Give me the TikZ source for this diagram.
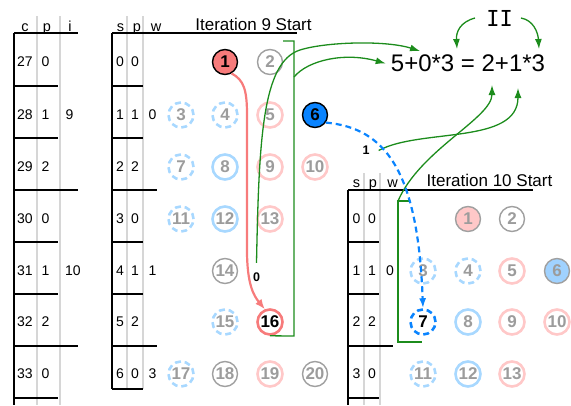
\documentclass[tikz,border=0pt]{standalone}
\usepackage{fontspec}
\setmainfont{Liberation Sans}
\newfontfamily\romanfont{DejaVu Sans Mono}
\usepackage{tikz}
\usetikzlibrary{arrows.meta, positioning}

\definecolor{nodered}{HTML}{F77B7B}
\definecolor{nodeblue}{HTML}{0A84FF}
\definecolor{lightblue}{HTML}{A8D8FF}
\definecolor{softblue}{HTML}{A0D2FF}
\definecolor{lightpink}{HTML}{FFC8C8}
\definecolor{ringgray}{HTML}{A0A0A0}
\definecolor{numgray}{HTML}{9C9C9C}
\definecolor{rulegray}{HTML}{D6D6D6}
\definecolor{linegreen}{HTML}{1C8C1C}

\begin{document}
\begin{tikzpicture}[
    x=1pt, y=-1pt,
    cell/.style={inner sep=0pt, font=\fontsize{14}{14}\selectfont},
    head/.style={inner sep=0pt, anchor=base, font=\fontsize{14.5}{15}\selectfont},
    title/.style={inner sep=0pt, anchor=base, font=\fontsize{17}{17}\selectfont},
    ball/.style={circle, minimum size=25pt, inner sep=0pt, line width=2.6pt,
        text=numgray, font=\bfseries\fontsize{17}{17}\selectfont},
    grayball/.style={ball, draw=ringgray, line width=1.4pt},
    pinkball/.style={ball, draw=lightpink},
    blueball/.style={ball, draw=lightblue},
    dashball/.style={ball, draw=lightblue, dash pattern=on 6pt off 3.8pt},
    redball/.style={ball, fill=nodered, draw=black, line width=1.4pt, text=black},
    redring/.style={ball, draw=nodered, text=black},
    darkball/.style={ball, fill=nodeblue, draw=black, line width=1.4pt, text=black},
    darkdash/.style={ball, draw=nodeblue, dash pattern=on 6pt off 3.8pt, text=black},
    pinkfill/.style={ball, fill=lightpink, draw=ringgray, line width=1.4pt},
    bluefill/.style={ball, fill=softblue, draw=ringgray, line width=1.4pt},
    rule/.style={line width=1.1pt},
    thickrule/.style={line width=2.2pt},
    softrule/.style={draw=rulegray, line width=1.5pt},
    gline/.style={draw=linegreen, line width=1.3pt},
    garrow/.style={gline, -{Latex[length=10pt, width=7pt]}},
    redarrow/.style={draw=nodered, line width=2.2pt, -{Latex[length=10pt, width=8pt]}},
    bluearrow/.style={draw=nodeblue, line width=2.2pt, dash pattern=on 6pt off 4pt,
        -{Latex[length=10pt, width=7pt]}},
    weight/.style={inner sep=0pt, font=\bfseries\fontsize{12.5}{13}\selectfont}
]
\useasboundingbox (0,0) rectangle (571,405);

% 左侧表格 c p i
\draw[softrule] (37,16) -- (37,405);
\draw[softrule] (60,16) -- (60,405);
\draw[rule] (14,33) -- (78,33);
\draw[rule] (14,33) -- (14,405);
\draw[rule] (14,86) -- (58,86);
\draw[rule] (14,138) -- (58,138);
\draw[thickrule] (14,190) -- (78,190);
\draw[rule] (14,242) -- (58,242);
\draw[rule] (14,294) -- (58,294);
\draw[thickrule] (14,346) -- (78,346);
\draw[rule] (14,398) -- (58,398);

\node[head] (hc) at (25,31) {c};
\node[head] (hp) at (47,31) {p};
\node[head] (hi) at (70,31) {i};

\node[cell, anchor=west] (c27) at (17,62) {27};
\node[cell, anchor=west] (c28) at (17,115) {28};
\node[cell, anchor=west] (c29) at (17,167) {29};
\node[cell, anchor=west] (c30) at (17,219) {30};
\node[cell, anchor=west] (c31) at (17,271) {31};
\node[cell, anchor=west] (c32) at (17,322) {32};
\node[cell, anchor=west] (c33) at (17,374) {33};

\node[cell, anchor=west] (q27) at (41.5,62) {0};
\node[cell, anchor=west] (q28) at (41.5,115) {1};
\node[cell, anchor=west] (q29) at (41.5,167) {2};
\node[cell, anchor=west] (q30) at (41.5,219) {0};
\node[cell, anchor=west] (q31) at (41.5,271) {1};
\node[cell, anchor=west] (q32) at (41.5,322) {2};
\node[cell, anchor=west] (q33) at (41.5,374) {0};

\node[cell] (i9) at (69.5,115) {9};
\node[cell] (i10) at (73,271) {10};

% 中间表格 s p w
\draw[softrule] (127,16) -- (127,389);
\draw[softrule] (143,16) -- (143,389);
\draw[rule] (112,33) -- (297,33);
\draw[rule] (112,33) -- (112,389);
\draw[rule] (112,86) -- (143,86);
\draw[rule] (112,138) -- (143,138);
\draw[rule] (112,190) -- (157,190);
\draw[rule] (112,242) -- (143,242);
\draw[rule] (112,294) -- (143,294);
\draw[rule] (112,346) -- (157,346);
\draw[rule] (112,389) -- (143,389);

\node[head] (hs) at (120.5,31) {s};
\node[head] (hq) at (137,31) {p};
\node[head] (hw) at (156,31) {w};
\node[title] (it9) at (253.5,30) {Iteration 9 Start};

\node[cell] (s0) at (120,62) {0};
\node[cell] (s1) at (120,115) {1};
\node[cell] (s2) at (120,167) {2};
\node[cell] (s3) at (120,219) {3};
\node[cell] (s4) at (120,271) {4};
\node[cell] (s5) at (120,322) {5};
\node[cell] (s6) at (120,374) {6};

\node[cell] (p0) at (135,62) {0};
\node[cell] (p1) at (135,115) {1};
\node[cell] (p2) at (135,167) {2};
\node[cell] (p3) at (135,219) {0};
\node[cell] (p4) at (135,271) {1};
\node[cell] (p5) at (135,322) {2};
\node[cell] (p6) at (135,374) {0};

\node[cell] (w1) at (152.5,115) {0};
\node[cell] (w4) at (152.5,271) {1};
\node[cell] (w6) at (152.5,374) {3};

% 第9轮的节点
\node[redball] (n1) at (225,62) {1};
\node[grayball] (n2) at (270,62) {2};
\node[dashball] (n3) at (181,115) {3};
\node[dashball] (n4) at (225,115) {4};
\node[pinkball] (n5) at (270,115) {5};
\node[darkball] (n6) at (315,115) {6};
\node[dashball] (n7) at (181,167) {7};
\node[blueball] (n8) at (225,167) {8};
\node[pinkball] (n9) at (270,167) {9};
\node[pinkball] (n10) at (315,167) {10};
\node[dashball] (n11) at (181,219) {11};
\node[blueball] (n12) at (225,219) {12};
\node[pinkball] (n13) at (270,219) {13};
\node[grayball] (n14) at (225,271) {14};
\node[dashball] (n15) at (225,322) {15};
\node[redring] (n16) at (270,322) {16};
\node[dashball] (n17) at (181,374) {17};
\node[grayball] (n18) at (225,374) {18};
\node[pinkball] (n19) at (270,374) {19};
\node[grayball] (n20) at (315,374) {20};

% 右侧表格 s p w
\draw[softrule] (364,173) -- (364,405);
\draw[softrule] (380,173) -- (380,405);
\draw[rule] (348,190) -- (533,190);
\draw[rule] (348,190) -- (348,405);
\draw[rule] (348,242) -- (379,242);
\draw[rule] (348,294) -- (379,294);
\draw[rule] (348,346) -- (393,346);
\draw[rule] (348,398) -- (379,398);

\node[head] (hs2) at (356.5,187) {s};
\node[head] (hq2) at (373,187) {p};
\node[head] (hw2) at (392.5,187) {w};
\node[title] (it10) at (489.5,186) {Iteration 10 Start};

\node[cell] (ss0) at (356.5,219) {0};
\node[cell] (ss1) at (356.5,271) {1};
\node[cell] (ss2) at (356.5,322) {2};
\node[cell] (ss3) at (356.5,374) {3};
\node[cell] (pp0) at (372,219) {0};
\node[cell] (pp1) at (372,271) {1};
\node[cell] (pp2) at (372,322) {2};
\node[cell] (pp3) at (372,374) {0};
\node[cell] (ww1) at (390,271) {0};

% 第10轮的节点
\node[pinkfill] (m1) at (468,219) {1};
\node[grayball] (m2) at (512,219) {2};
\node[dashball] (m3) at (423,271) {3};
\node[dashball] (m4) at (468,271) {4};
\node[pinkball] (m5) at (512,271) {5};
\node[bluefill] (m6) at (557,271) {6};
\node[darkdash] (m7) at (423,322) {7};
\node[blueball] (m8) at (468,322) {8};
\node[pinkball] (m9) at (512,322) {9};
\node[pinkball] (m10) at (557,322) {10};
\node[dashball] (m11) at (423,374) {11};
\node[blueball] (m12) at (468,374) {12};
\node[pinkball] (m13) at (512,374) {13};

% 等式和标签
\node[inner sep=5pt, font=\fontsize{24}{24}\selectfont] (eq) at (468,63.5) {5+0*3 = 2+1*3};
\node[inner sep=0pt, font=\romanfont\fontsize{22}{22}\selectfont] (two) at (499.5,18) {II};
\node[weight] (lab0) at (256.5,277.5) {0};
\node[weight] (lab1) at (366,150.5) {1};

\coordinate (e0) at (420,51);
\coordinate (e1) at (518,88);
\coordinate (e2) at (492,85);
\coordinate (e3) at (457,49);
\coordinate (e4) at (539,49);
\coordinate (b9) at (294,77);
\coordinate (b10) at (398,201);

% 绿色括号和箭头
\draw[gline] (283,41) -| (294,336) -- (n16.south);
\draw[gline] (409,201) -- (b10) -- (398,342) -- (422,342);
\draw[garrow] (b9) .. controls (308,60) and (345,52) .. (eq.west);
\draw[garrow] ([yshift=10pt]lab0.north) .. controls (259,140) and (262,62) .. (300,50)
    .. controls (325,42) and (385,40) .. (e0);
\draw[garrow] ([xshift=9pt]lab1.east) .. controls (420,128) and (518,145) .. (e1);
\draw[garrow] (b10) .. controls (420,150) and (492,118) .. (e2);
\draw[garrow] ([xshift=-11pt]two.west) .. controls (460,22) and (456,32) .. (e3);
\draw[garrow] ([xshift=8pt]two.east) .. controls (533,20) and (538,32) .. (e4);

% 红色和蓝色箭头
\draw[redarrow] (n1.-60) .. controls (244,80) and (247,90) .. (247,115) -- (247,250)
    .. controls (247,285) and (254,296) .. (n16.112);
\draw[bluearrow] (n6.-35) .. controls (385,128) and (418,170) .. (m7.north);

\end{tikzpicture}
\end{document}
